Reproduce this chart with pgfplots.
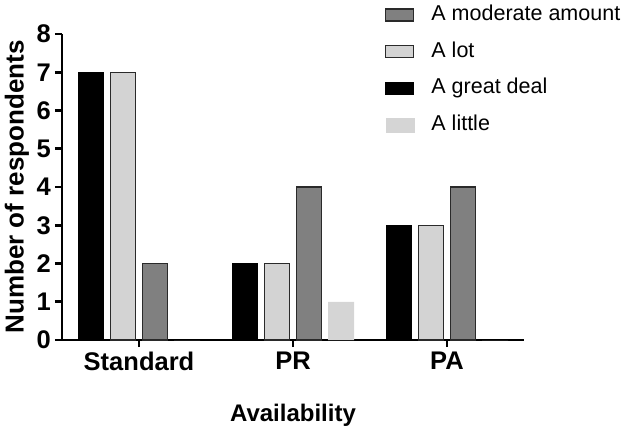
\documentclass[border=0pt]{standalone}
\usepackage{fontspec}
\setmainfont{Liberation Sans}
\usepackage{pgfplots}
\pgfplotsset{compat=1.18}
\definecolor{gMod}{HTML}{808080}
\definecolor{gLot}{HTML}{D3D3D3}
\definecolor{gLittle}{HTML}{D5D5D5}
\definecolor{edge}{HTML}{2A2A2A}

\begin{document}
\begin{tikzpicture}
\begin{axis}[
  scale only axis, width=462pt, height=306pt,
  xmin=-0.5, xmax=2.5, ymin=0, ymax=8,
  axis lines=left,
  axis line style={line width=2.6pt, -, black},
  xtick={0,1,2}, xticklabels={Standard,PR,PA},
  ytick={0,1,...,8},
  tick align=outside, major tick length=7pt,
  every tick/.style={line width=2.6pt, black},
  tick label style={font=\fontsize{25.5}{30}\selectfont\bfseries},
  /pgf/number format/assume math mode=true,
  yticklabel style={inner sep=0pt, xshift=-4pt},
  xticklabel style={inner sep=0pt, yshift=-5pt},
  xlabel={Availability}, ylabel={Number of respondents},
  xlabel style={font=\fontsize{24}{28}\selectfont\bfseries, yshift=-30pt},
  ylabel style={font=\fontsize{26}{30}\selectfont\bfseries, yshift=4pt},
  legend style={at={(0.699,1.097)}, anchor=north west, draw=none, fill=none,
    inner sep=0pt, font=\fontsize{21.5}{26}\selectfont,
    nodes={inner sep=0pt, text height=16pt, text depth=5pt},
    row sep=15.7pt, /tikz/column 1/.style={column sep=17pt}},
  legend cell align=left,
  legend entries={A moderate amount, A lot, A great deal, A little},
]
\addlegendimage{legend image code/.code={\draw[fill=gMod, draw=edge, line width=1.3pt] (0pt,-6pt) rectangle (28pt,6pt);}}
\addlegendimage{legend image code/.code={\draw[fill=gLot, draw=edge, line width=1.3pt] (0pt,-6pt) rectangle (28pt,6pt);}}
\addlegendimage{legend image code/.code={\draw[fill=black, draw=black, line width=1.3pt] (0pt,-6pt) rectangle (28pt,6pt);}}
\addlegendimage{legend image code/.code={\fill[gLittle] (0pt,-6.6pt) rectangle (28pt,6.6pt);}}

% A great deal
\addplot[ybar, bar width=25pt, bar shift=-48pt, fill=black, draw=black, line width=1.3pt]
  coordinates {(0,7) (1,2) (2,3)};
% A lot
\addplot[ybar, bar width=25pt, bar shift=-16pt, fill=gLot, draw=edge, line width=1.3pt]
  coordinates {(0,7) (1,2) (2,3)};
% A moderate amount
\addplot[ybar, bar width=25pt, bar shift=16pt, fill=gMod, draw=edge, line width=1.3pt]
  coordinates {(0,2) (1,4) (2,4)};
% A little
\addplot[ybar, bar width=26pt, bar shift=48pt, fill=gLittle, draw=none]
  coordinates {(0,0) (1,1) (2,0)};
\end{axis}
\path (current axis.south west) ++(-62pt,-92pt) rectangle ++(628pt,432pt);
\end{tikzpicture}
\end{document}
